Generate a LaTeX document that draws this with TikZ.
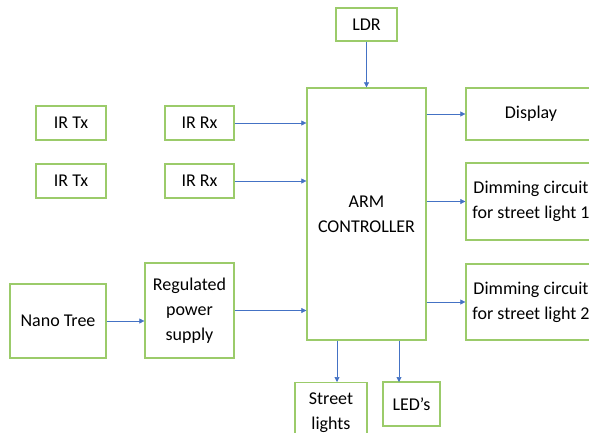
\documentclass[tikz,border=0pt]{standalone}
\usepackage{fontspec}
\setmainfont{Carlito}
\usetikzlibrary{arrows.meta}
\definecolor{boxgreen}{HTML}{9BCB6A}
\definecolor{arrowblue}{HTML}{4472C4}
\tikzset{
  blk/.style={draw=boxgreen, line width=1.3pt, fill=white, inner sep=0pt, align=center, font=\fontsize{18}{25}\selectfont},
  conn/.style={draw=arrowblue, line width=0.6pt, -{Triangle[length=5pt,width=5pt]}}
}
\begin{document}
\begin{tikzpicture}[x=1pt,y=-1pt]
\useasboundingbox (0,0) rectangle (589,432);
\clip (0,0) rectangle (589,432);
\node[blk, minimum width=70pt, minimum height=34pt] (irtx1) at (71,123) {IR Tx};
\node[blk, minimum width=69pt, minimum height=34pt] (irrx1) at (199.5,123) {IR Rx};
\node[blk, minimum width=70pt, minimum height=34pt] (irtx2) at (71,181) {IR Tx};
\node[blk, minimum width=69pt, minimum height=34pt] (irrx2) at (199.5,181) {IR Rx};
\node[blk, minimum width=61pt, minimum height=33pt] (ldr) at (366.5,24.5) {LDR};
\node[blk, minimum width=119pt, minimum height=252pt] (arm) at (366.5,214) {ARM\\CONTROLLER};
\node[blk, minimum width=130pt, minimum height=52pt] (disp) at (531,114) {Display};
\node[blk, minimum width=130pt, minimum height=77pt] (dim1) at (531,201.5) {Dimming circuit\\for street light 1};
\node[blk, minimum width=130pt, minimum height=76pt] (dim2) at (531,302) {Dimming circuit\\for street light 2};
\node[blk, minimum width=96pt, minimum height=74pt] (nano) at (58,321) {Nano Tree};
\node[blk, minimum width=89pt, minimum height=95pt] (reg) at (189.5,310.5) {Regulated\\power\\supply};
\node[blk, minimum width=72pt, minimum height=60pt, anchor=north] (street) at (331,382) {Street\\lights};
\node[blk, minimum width=57pt, minimum height=44pt] (led) at (411.5,404) {LED’s};
\draw[conn] (irrx1.east) -- (irrx1.east -| arm.west);
\draw[conn] (irrx2.east) -- (irrx2.east -| arm.west);
\draw[conn] (nano.east) -- (reg.west |- nano.east);
\draw[conn] (reg.east) -- (reg.east -| arm.west);
\draw[conn] (ldr.south) -- (ldr.south |- arm.north);
\draw[conn] (arm.east |- disp.west) -- (disp.west);
\draw[conn] (arm.east |- dim1.west) -- (dim1.west);
\draw[conn] (arm.east |- dim2.west) -- (dim2.west);
\draw[conn] (arm.south -| 337,0) -- (337,382);
\draw[conn] (arm.south -| 399,0) -- (399,382);
\end{tikzpicture}
\end{document}
